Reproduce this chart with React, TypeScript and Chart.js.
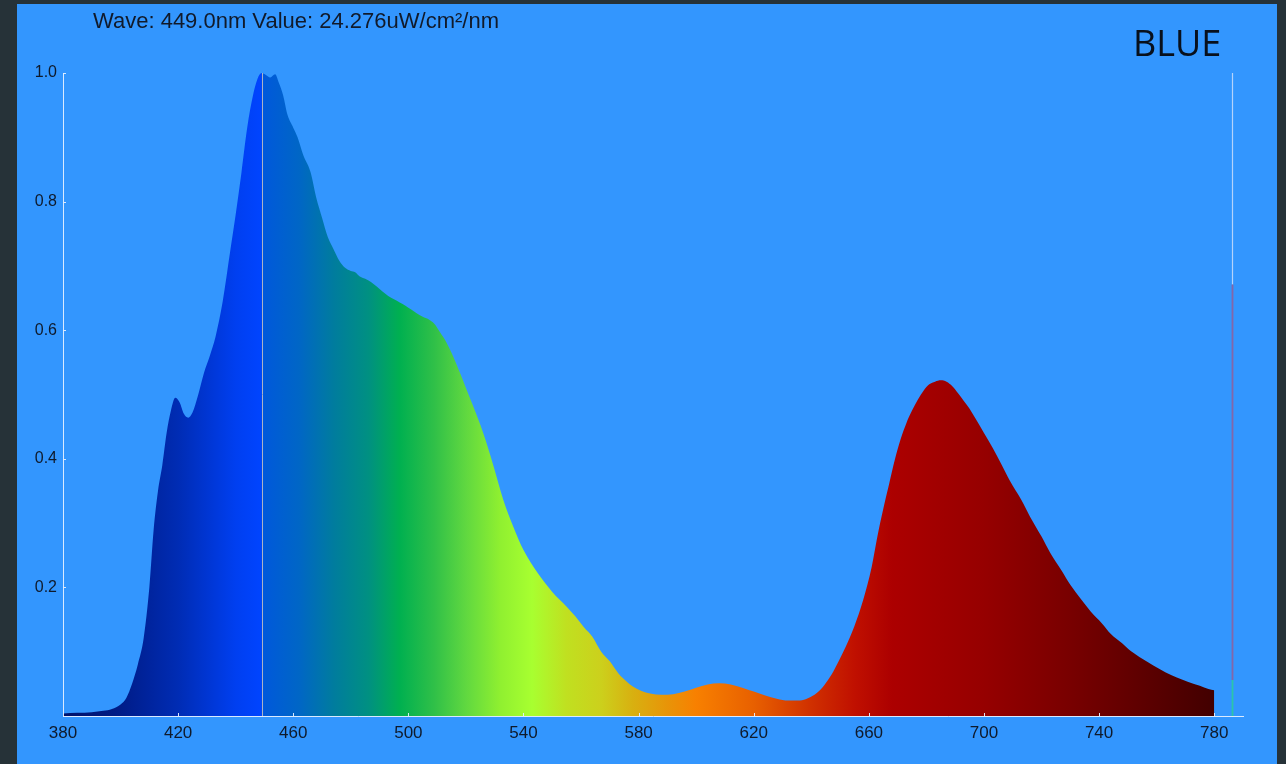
import React, { useEffect, useRef } from "react";
import { Chart, registerables } from "chart.js";

Chart.register(...registerables);

// Relative spectral power distribution (normalised to the 449 nm peak)
const wavelengths = [
  380, 385, 390, 394, 397, 400, 402, 404, 406, 408, 410, 411.5, 413, 414.5, 416, 417.5, 419, 420.5, 422,
  423.5, 425, 427, 429, 431, 433, 435.5, 438, 440, 442, 444, 446, 447.5, 449, 450.5, 452, 453.7, 455,
  456.5, 458, 460, 461.5, 463.5, 466, 468, 470, 472, 474, 476, 478, 480, 481.5, 483, 485, 487, 489, 491,
  493, 495, 497, 499, 501, 503, 505, 507, 509, 511, 513, 515.5, 518, 520, 522.5, 526, 529.5, 533, 536.5,
  540, 545, 550, 555, 558, 561, 564, 567, 570, 573, 576, 578, 581, 584, 588, 592, 596, 600, 604, 608,
  612, 616, 620, 624, 628, 632, 636, 639, 642, 644.5, 647, 649.5, 652, 655, 658, 661, 663, 665, 667, 669,
  671, 673, 675, 677, 679, 681, 683, 685, 687, 689, 691, 693, 695, 697, 700, 703, 706, 709, 713, 716,
  720, 723, 727, 730, 734, 737, 741, 744, 748, 751, 755, 759, 763, 767, 771, 775, 778, 780,
];
const intensities = [
  0.004, 0.005, 0.006, 0.008, 0.011, 0.018, 0.028, 0.05, 0.08, 0.12, 0.2, 0.29, 0.35, 0.39, 0.44, 0.475,
  0.495, 0.488, 0.47, 0.464, 0.472, 0.5, 0.534, 0.56, 0.59, 0.645, 0.72, 0.78, 0.845, 0.915, 0.965, 0.99,
  1.0, 0.997, 0.993, 0.998, 0.985, 0.965, 0.935, 0.915, 0.9, 0.872, 0.846, 0.806, 0.775, 0.745, 0.726,
  0.708, 0.697, 0.692, 0.69, 0.684, 0.68, 0.675, 0.668, 0.66, 0.653, 0.648, 0.643, 0.638, 0.632, 0.626,
  0.621, 0.617, 0.61, 0.597, 0.583, 0.56, 0.533, 0.51, 0.482, 0.44, 0.39, 0.336, 0.294, 0.258, 0.222,
  0.193, 0.17, 0.155, 0.138, 0.123, 0.1, 0.085, 0.066, 0.053, 0.046, 0.039, 0.035, 0.033, 0.034, 0.038,
  0.044, 0.049, 0.051, 0.049, 0.044, 0.038, 0.032, 0.027, 0.024, 0.024, 0.028, 0.036, 0.048, 0.064,
  0.085, 0.108, 0.14, 0.18, 0.232, 0.28, 0.322, 0.36, 0.398, 0.43, 0.455, 0.475, 0.492, 0.506, 0.516,
  0.52, 0.522, 0.52, 0.513, 0.502, 0.49, 0.478, 0.463, 0.44, 0.417, 0.392, 0.366, 0.336, 0.31, 0.279,
  0.254, 0.226, 0.204, 0.18, 0.163, 0.144, 0.128, 0.113, 0.101, 0.089, 0.078, 0.068, 0.06, 0.053, 0.047,
  0.042, 0.04,
];

const xTickValues = [380, 420, 460, 500, 540, 580, 620, 660, 700, 740, 780];
const yTickValues = [0.2, 0.4, 0.6, 0.8, 1.0];

// Cursor readout
const cursorWave = 449.0;
const cursorValue = 24.276;
const colorName = "BLUE";

// Side indicator bar and its level breaks
const markerWave = 786.3;
const markerLevels = [1.0, 0.671, 0.056, 0];

// Wavelength-to-colour map used for the filled spectrum
const spectrumStops: [number, string][] = [
  [380, "#00116a"],
  [400, "#001c88"],
  [420, "#002cb4"],
  [440, "#003ff0"],
  [448.9, "#0044ff"],
  [449.1, "#0058dc"],
  [462, "#0066c6"],
  [474, "#007c9e"],
  [486, "#009082"],
  [497, "#00b050"],
  [509, "#30c048"],
  [520, "#60d840"],
  [532, "#90f030"],
  [543, "#a8ff30"],
  [555, "#c0e020"],
  [567, "#ccd01c"],
  [578, "#d8b010"],
  [590, "#e89408"],
  [600, "#f88000"],
  [620, "#e86000"],
  [640, "#d03000"],
  [655, "#c01000"],
  [668, "#ac0000"],
  [700, "#960000"],
  [730, "#780000"],
  [760, "#580000"],
  [780, "#420000"],
];

const AXIS_COLOR = "rgba(228,238,255,0.95)";
const LABEL_COLOR = "#0f1a2b";
const FONT_FAMILY = "'Liberation Sans', Arial, sans-serif";

const overlayPlugin = {
  id: "spectrumOverlay",
  afterDatasetsDraw(chart: any) {
    const { ctx, scales } = chart;
    const x = scales.x;
    const y = scales.y;
    ctx.save();

    // cursor line at the selected wavelength
    const cx = Math.round(x.getPixelForValue(cursorWave)) + 0.5;
    ctx.strokeStyle = "rgba(172,178,198,1)";
    ctx.lineWidth = 1;
    ctx.beginPath();
    ctx.moveTo(cx, y.getPixelForValue(1));
    ctx.lineTo(cx, y.getPixelForValue(0));
    ctx.stroke();

    // three-part indicator bar on the right
    const mx = Math.round(x.getPixelForValue(markerWave)) + 0.5;
    const markerColors = ["rgba(205,222,250,0.85)", "#8466a8", "#2cc4aa"];
    for (let i = 0; i < markerColors.length; i++) {
      ctx.strokeStyle = markerColors[i];
      ctx.lineWidth = i === 0 ? 1.2 : 1.8;
      ctx.beginPath();
      ctx.moveTo(mx, y.getPixelForValue(markerLevels[i]));
      ctx.lineTo(mx, y.getPixelForValue(markerLevels[i + 1]));
      ctx.stroke();
    }

    // short inward tick marks
    ctx.strokeStyle = AXIS_COLOR;
    ctx.lineWidth = 1;
    const bottom = y.getPixelForValue(0);
    const left = x.getPixelForValue(380);
    xTickValues.forEach((v) => {
      const px = Math.round(x.getPixelForValue(v)) + 0.5;
      ctx.beginPath();
      ctx.moveTo(px, bottom);
      ctx.lineTo(px, bottom - 3);
      ctx.stroke();
    });
    yTickValues.forEach((v) => {
      const py = Math.round(y.getPixelForValue(v)) + 0.5;
      ctx.beginPath();
      ctx.moveTo(left, py);
      ctx.lineTo(left + 3, py);
      ctx.stroke();
    });
    ctx.restore();
  },
};

function spectrumFill(context: any) {
  const chart = context.chart;
  const { ctx, chartArea, scales } = chart;
  if (!chartArea || !scales.x) return "rgba(0,0,0,0)";
  const x = scales.x;
  const x0 = x.getPixelForValue(380);
  const x1 = x.getPixelForValue(780);
  const g = ctx.createLinearGradient(x0, 0, x1, 0);
  spectrumStops.forEach(([w, c]) => g.addColorStop((w - 380) / 400, c));
  return g;
}

export default function App() {
  const canvasRef = useRef<HTMLCanvasElement | null>(null);

  useEffect(() => {
    if (!canvasRef.current) return;
    const chart = new Chart(canvasRef.current, {
      type: "line",
      data: {
        datasets: [
          {
            data: wavelengths.map((w, i) => ({ x: w, y: intensities[i] })),
            fill: "origin",
            backgroundColor: spectrumFill,
            borderColor: "rgba(0,0,0,0)",
            borderWidth: 0,
            pointRadius: 0,
            cubicInterpolationMode: "monotone",
          },
        ],
      },
      options: {
        responsive: false,
        animation: false,
        events: [],
        layout: { padding: { top: 73, right: 43, bottom: 0, left: 0 } },
        plugins: {
          legend: { display: false },
          tooltip: { enabled: false },
        },
        scales: {
          x: {
            type: "linear",
            min: 380,
            max: 790,
            afterFit: (scale: any) => {
              scale.height = 48;
            },
            afterBuildTicks: (scale: any) => {
              scale.ticks = xTickValues.map((v) => ({ value: v }));
            },
            grid: { display: false, drawTicks: false },
            border: { display: true, color: AXIS_COLOR, width: 1 },
            ticks: {
              padding: 7,
              color: LABEL_COLOR,
              font: { family: FONT_FAMILY, size: 17 },
              maxRotation: 0,
              autoSkip: false,
              callback: (v: any) => String(v),
            },
          },
          y: {
            type: "linear",
            min: 0,
            max: 1,
            afterFit: (scale: any) => {
              scale.width = 63;
            },
            afterBuildTicks: (scale: any) => {
              scale.ticks = yTickValues.map((v) => ({ value: v }));
            },
            grid: { display: false, drawTicks: false },
            border: { display: true, color: AXIS_COLOR, width: 1 },
            ticks: {
              padding: 6,
              color: LABEL_COLOR,
              font: { family: FONT_FAMILY, size: 16 },
              callback: (v: any) => Number(v).toFixed(1),
            },
          },
        },
      },
      plugins: [overlayPlugin],
    });
    return () => chart.destroy();
  }, []);

  return (
    <div
      style={{
        position: "absolute",
        left: 0,
        top: 0,
        width: 1286,
        height: 764,
        background: "#263238",
        overflow: "hidden",
      }}
    >
      <div
        style={{
          position: "absolute",
          left: 17,
          top: 4,
          width: 1260,
          height: 760,
          background: "#3396fe",
        }}
      />
      <canvas
        ref={canvasRef}
        width={1286}
        height={764}
        style={{ position: "absolute", left: 0, top: 0, width: 1286, height: 764 }}
      />
      <div
        style={{
          position: "absolute",
          left: 93,
          top: 10,
          fontFamily: FONT_FAMILY,
          fontSize: 22,
          lineHeight: "22px",
          color: "#111a2a",
          whiteSpace: "nowrap",
        }}
      >
        {`Wave: ${cursorWave.toFixed(1)}nm Value: ${cursorValue.toFixed(3)}uW/cm²/nm`}
      </div>
      <div
        style={{
          position: "absolute",
          left: 1133,
          top: 24,
          fontFamily: "'Open Sans', 'Noto Sans', sans-serif",
          fontSize: 36,
          lineHeight: "37px",
          color: "#08101c",
          whiteSpace: "nowrap",
        }}
      >
        {colorName}
      </div>
    </div>
  );
}
